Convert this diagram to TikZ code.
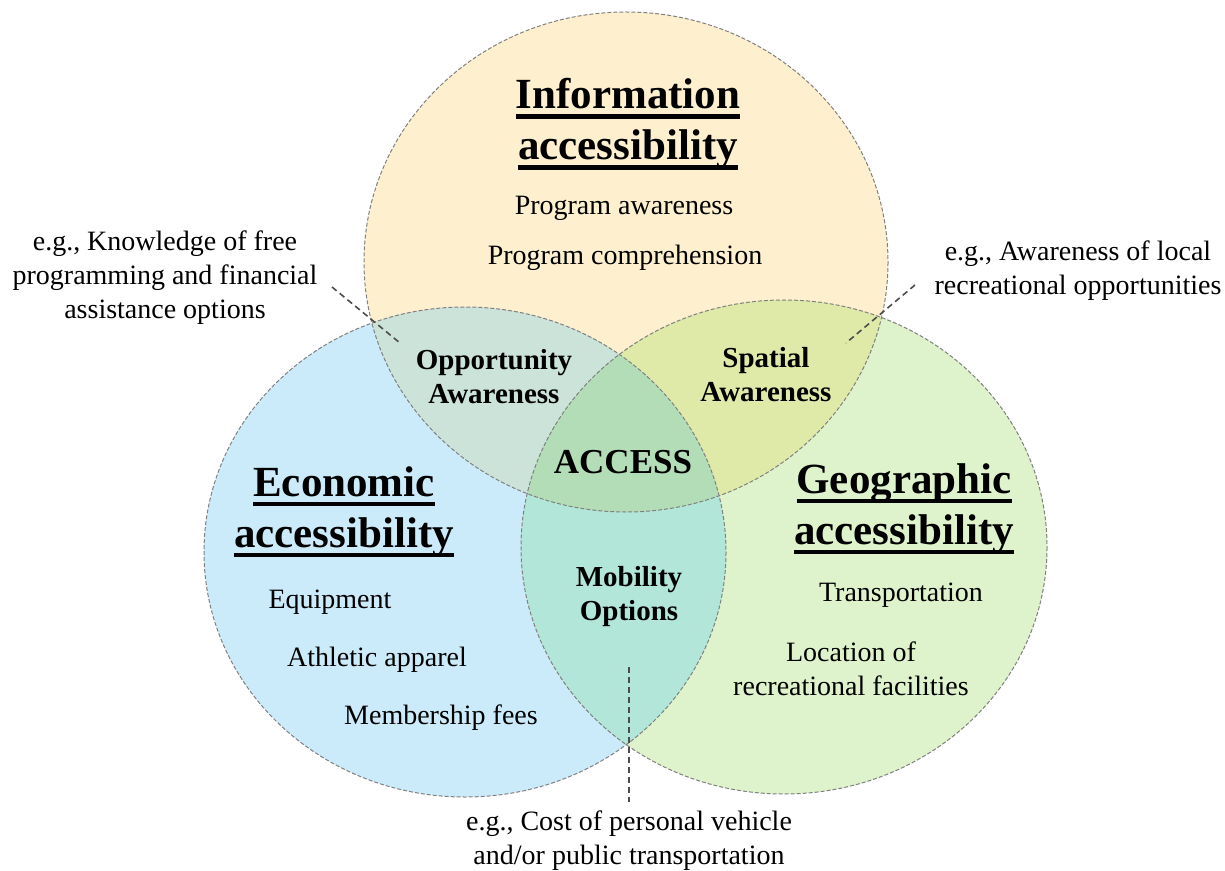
\documentclass[tikz,border=0pt]{standalone}
\usepackage{fontspec}
\setmainfont{Liberation Serif}

\definecolor{infofill}{RGB}{254,240,206}
\definecolor{econfill}{RGB}{204,235,250}
\definecolor{geofill}{RGB}{222,243,203}
\definecolor{iefill}{RGB}{204,227,218}
\definecolor{igfill}{RGB}{224,234,168}
\definecolor{egfill}{RGB}{178,230,216}
\definecolor{allfill}{RGB}{179,221,183}

% thick rule under a word
\newcommand{\ulword}[1]{\setbox0\hbox{#1}\rlap{\rule[-5pt]{\wd0}{2.2pt}}\box0}

\tikzset{
    ttl/.style={font=\fontsize{21.5}{25.5}\selectfont\bfseries, align=center},
    item/.style={font=\fontsize{14}{17}\selectfont, align=center},
    zone/.style={font=\fontsize{14.5}{17}\selectfont\bfseries, align=center},
    note/.style={font=\fontsize{14}{17}\selectfont, align=center},
    rim/.style={gray, dashed, dash pattern=on 2pt off 1pt, line width=0.5pt},
    lead/.style={black!70, dashed, dash pattern=on 3pt off 2pt, line width=0.8pt}
}

\begin{document}
\begin{tikzpicture}[x=0.5pt, y=-0.5pt]
    \useasboundingbox (0,0) rectangle (1225,871);

    \coordinate (I) at (626, 262);
    \coordinate (E) at (465, 552);
    \coordinate (G) at (784, 547);

    % the three sets
    \fill[infofill] (I) ellipse [x radius=262, y radius=250];
    \fill[econfill] (E) ellipse [x radius=261, y radius=245];
    \fill[geofill]  (G) ellipse [x radius=263, y radius=247];

    % pairwise overlaps
    \begin{scope}
        \clip (I) ellipse [x radius=262, y radius=250];
        \fill[iefill] (E) ellipse [x radius=261, y radius=245];
        \fill[igfill] (G) ellipse [x radius=263, y radius=247];
    \end{scope}
    \begin{scope}
        \clip (E) ellipse [x radius=261, y radius=245];
        \fill[egfill] (G) ellipse [x radius=263, y radius=247];
    \end{scope}
    % middle
    \begin{scope}
        \clip (I) ellipse [x radius=262, y radius=250];
        \clip (E) ellipse [x radius=261, y radius=245];
        \fill[allfill] (G) ellipse [x radius=263, y radius=247];
    \end{scope}

    \draw[rim] (I) ellipse [x radius=262, y radius=250];
    \draw[rim] (E) ellipse [x radius=261, y radius=245];
    \draw[rim] (G) ellipse [x radius=263, y radius=247];

    %\draw[gray!40] (0,0) grid[step=50] (1225,871);

    % set titles and items
    \node[ttl] (infottl) at (628, 124) {\ulword{Information}\\\ulword{accessibility}};
    \node[item] (aware) at (624, 208) {Program awareness};
    \node[item] (compr) at (625, 258) {Program comprehension};

    \node[ttl] (econttl) at (344, 512) {\ulword{Economic}\\\ulword{accessibility}};
    \node[item] (equip) at (330, 602) {Equipment};
    \node[item] (appar) at (377, 660) {Athletic apparel};
    \node[item] (fees)  at (441, 718) {Membership fees};

    \node[ttl] (geottl) at (904, 509) {\ulword{Geographic}\\\ulword{accessibility}};
    \node[item] (trans) at (901, 595) {Transportation};
    \node[item] (loc)   at (851, 669) {Location of\\recreational facilities};

    % overlap labels
    \node[zone] (oppo) at (494, 377) {Opportunity\\Awareness};
    \node[zone] (spat) at (766, 375) {Spatial\\Awareness};
    \node[zone] (mobi) at (629, 597) {Mobility\\Options};
    \node[font=\fontsize{17.5}{20}\selectfont\bfseries] (access) at (623, 462) {ACCESS};

    % examples
    \node[note] (noteO) at (165, 278) {e.g., Knowledge of free\\programming and financial\\assistance options};
    \node[note] (noteS) at (1078, 271) {e.g., Awareness of local\\recreational opportunities};
    \node[note] (noteM) at (629, 841) {e.g., Cost of personal vehicle\\and/or public transportation};

    \coordinate (O1) at (332, 287);
    \coordinate (O2) at (400, 343);
    \coordinate (S1) at (915, 285);
    \coordinate (S2) at (846, 343);
    \coordinate (M1) at (629, 667);
    \coordinate (M2) at (629, 802);

    \draw[lead] (O1) -- (O2);
    \draw[lead] (S1) -- (S2);
    \draw[lead] (M1) -- (M2);

\end{tikzpicture}
\end{document}
